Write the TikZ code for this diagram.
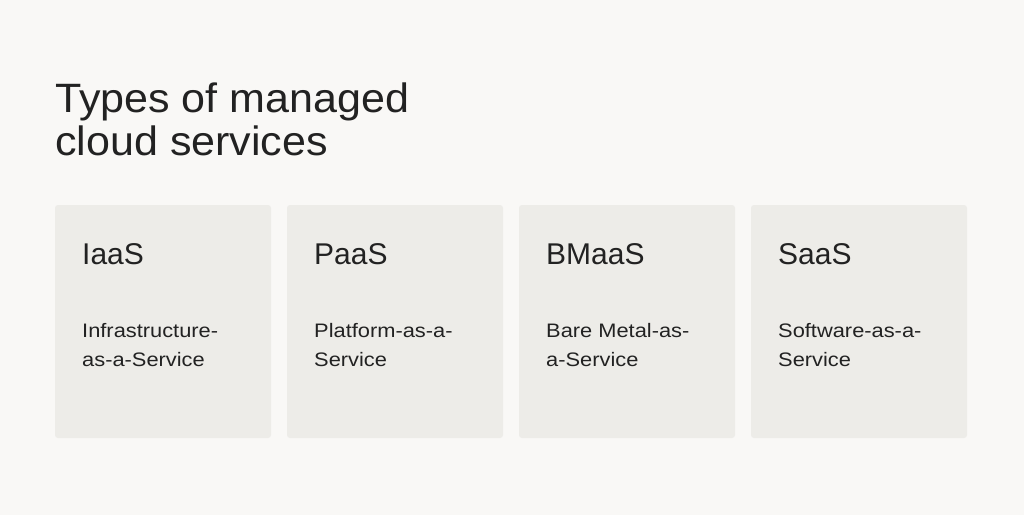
\documentclass[tikz,border=0pt]{standalone}
\usepackage{fontspec}
\setmainfont{Liberation Sans}
\newfontfamily\ttlfont[FakeStretch=1.05]{Liberation Sans}
\newfontfamily\subfont[FakeStretch=1.12]{Liberation Sans}
\definecolor{bg}{HTML}{F9F8F6}
\definecolor{card}{HTML}{EDECE8}
\definecolor{ink}{HTML}{222222}
\begin{document}
\begin{tikzpicture}[x=1pt,y=-1pt,
  card/.style={fill=card,draw=none,rounded corners=3pt},
  head/.style={anchor=base west,inner sep=0pt,text=ink,font=\fontsize{30}{30}\selectfont},
  sub/.style={anchor=base west,inner sep=0pt,text=ink,font=\subfont\fontsize{19.5}{29}\selectfont},
  ttl/.style={anchor=base west,inner sep=0pt,text=ink,font=\ttlfont\fontsize{41}{43}\selectfont}]
\fill[bg] (0,0) rectangle (1024,515);
\useasboundingbox (0,0) rectangle (1024,515);
\node[ttl] (t1) at (55,112) {Types of managed};
\node[ttl] (t2) at (55,155) {cloud services};
\foreach \i/\h/\a/\b in {0/IaaS/Infrastructure-/as-a-Service,1/PaaS/Platform-as-a-/Service,2/BMaaS/Bare Metal-as-/a-Service,3/SaaS/Software-as-a-/Service}{
  \pgfmathsetmacro{\xx}{55+232*\i}
  \fill[card] (\xx,205) rectangle ++(216,233);
  \node[head] (h\i) at (\xx+27,264) {\h};
  \node[sub] (a\i) at (\xx+27,337) {\a};
  \node[sub] (b\i) at (\xx+27,366) {\b};
}
\end{tikzpicture}
\end{document}
